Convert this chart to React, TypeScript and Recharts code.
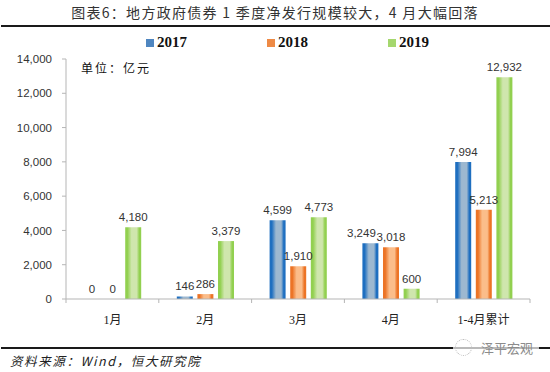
// @ts-nocheck
import React from 'react';
import { BarChart, Bar, XAxis, YAxis, LabelList, Legend } from 'recharts';

const months = ['1月', '2月', '3月', '4月', '1-4月累计'];
const values2017 = [0, 146, 4599, 3249, 7994];
const values2018 = [0, 286, 1910, 3018, 5213];
const values2019 = [4180, 3379, 4773, 600, 12932];
const yTicks = [0, 2000, 4000, 6000, 8000, 10000, 12000, 14000];

const data = months.map((month, i) => ({
  month,
  y2017: values2017[i],
  y2018: values2018[i],
  y2019: values2019[i],
}));

const series = [
  { key: 'y2017', name: '2017', edge: '#1f6fc0', mid: '#9db8d0', swatch: '#4f86c0' },
  { key: 'y2018', name: '2018', edge: '#ec7426', mid: '#fbbd8a', swatch: '#ee8a45' },
  { key: 'y2019', name: '2019', edge: '#92d050', mid: '#cfe6ad', swatch: '#a5d76e' },
];

const WIDTH = 550;
const HEIGHT = 372;
const PLOT_W = 464;
const LEGEND_H = 20;
const AXIS = '#b5b5b5';
const CJK = '"Noto Sans CJK SC", sans-serif';
const SERIF = '"Liberation Serif", "Noto Sans CJK SC", serif';
const LABEL_FONT = '"Liberation Sans", Arial, sans-serif';

const formatNum = (v: number) => v.toLocaleString('en-US');

const MonthTick = ({ x, y, payload, index }: any) => {
  const half = PLOT_W / months.length / 2;
  return (
    <g>
      <line x1={x + half} x2={x + half} y1={y - 8} y2={y - 4} stroke={AXIS} />
      {index === 0 && <line x1={x - half} x2={x - half} y1={y - 8} y2={y - 4} stroke={AXIS} />}
      <text x={x} y={y + 17} textAnchor="middle" fontSize={12} fill="#222" fontFamily={SERIF}>
        {payload.value}
      </text>
    </g>
  );
};

// 3,249 sits left of its bar in the original so it clears 3,018
const ValueLabel = ({ x, y, width, value }: any) => {
  const dx = value === 3249 ? -9 : 0;
  return (
    <text
      x={x + width / 2 + dx}
      y={y - 6}
      textAnchor="middle"
      fontSize={11.5}
      fill="#333"
      fontFamily={LABEL_FONT}
    >
      {formatNum(value)}
    </text>
  );
};

const LegendRow = ({ payload }: any) => (
  <div style={{ position: 'relative', height: LEGEND_H }}>
    {payload.map((item: any, i: number) => (
      <div
        key={item.value}
        style={{
          position: 'absolute',
          left: 146 + i * 121,
          top: 0,
          display: 'flex',
          alignItems: 'center',
          fontFamily: SERIF,
          fontWeight: 'bold',
          fontSize: 15,
          color: '#111',
        }}
      >
        <span style={{ width: 8, height: 8, marginRight: 3, background: series[i].swatch }} />
        {item.value}
      </div>
    ))}
  </div>
);

const rule = (top: number, height: number): React.CSSProperties => ({
  position: 'absolute',
  left: 1,
  width: 549,
  top,
  height,
  background: '#1a1a1a',
});

export default function App() {
  return (
    <div style={{ position: 'absolute', left: 0, top: 0, width: WIDTH, height: HEIGHT, background: '#fff', overflow: 'hidden' }}>
      <div
        style={{
          position: 'absolute',
          top: 2,
          left: 0,
          width: WIDTH,
          textAlign: 'center',
          fontSize: 14,
          letterSpacing: 1.3,
          color: '#333',
          fontFamily: CJK,
          whiteSpace: 'nowrap',
        }}
      >
        图表6：地方政府债券 1 季度净发行规模较大，4 月大幅回落
      </div>
      <div style={rule(25, 2)} />

      <BarChart
        width={WIDTH}
        height={HEIGHT}
        data={data}
        margin={{ top: 59 - LEGEND_H, right: 20, bottom: 0, left: 0 }}
        barSize={16}
        barGap={4.6}
        style={{ position: 'absolute', left: 0, top: 0 }}
      >
        <defs>
          {series.map((s) => (
            <linearGradient key={s.key} id={`fill-${s.key}`} x1="0" y1="0" x2="1" y2="0">
              <stop offset="0" stopColor={s.edge} />
              <stop offset="0.14" stopColor={s.edge} />
              <stop offset="0.4" stopColor={s.mid} />
              <stop offset="0.72" stopColor={s.mid} />
              <stop offset="0.88" stopColor={s.edge} />
              <stop offset="1" stopColor={s.edge} />
            </linearGradient>
          ))}
        </defs>
        <XAxis
          dataKey="month"
          height={73}
          interval={0}
          axisLine={{ stroke: AXIS }}
          tickLine={false}
          tick={<MonthTick />}
        />
        <YAxis
          width={66}
          domain={[0, 14000]}
          ticks={yTicks}
          interval={0}
          tickFormatter={formatNum}
          axisLine={{ stroke: AXIS }}
          tickLine={{ stroke: AXIS }}
          tickSize={4}
          tickMargin={10}
          tick={{ fontSize: 11.5, fill: '#333', fontFamily: LABEL_FONT }}
        />
        <Legend
          verticalAlign="top"
          align="left"
          content={<LegendRow />}
          wrapperStyle={{ left: 0, top: 34, width: WIDTH, height: LEGEND_H }}
        />
        {series.map((s) => (
          <Bar
            key={s.key}
            dataKey={s.key}
            name={s.name}
            fill={`url(#fill-${s.key})`}
            minPointSize={0.01}
            isAnimationActive={false}
          >
            <LabelList dataKey={s.key} content={<ValueLabel />} />
          </Bar>
        ))}
      </BarChart>

      <div style={{ position: 'absolute', left: 81, top: 59, fontSize: 12, letterSpacing: 2, color: '#111', fontFamily: CJK, whiteSpace: 'nowrap' }}>
        单位：亿元
      </div>

      <div style={rule(347, 1.5)} />
      <div
        style={{
          position: 'absolute',
          left: 10,
          top: 351,
          fontSize: 12.5,
          fontStyle: 'italic',
          letterSpacing: 1.6,
          color: '#222',
          fontFamily: CJK,
          whiteSpace: 'nowrap',
        }}
      >
        资料来源：Wind，恒大研究院
      </div>
      <div
        style={{
          position: 'absolute',
          left: 453,
          top: 338,
          width: 82,
          padding: '0 2px',
          background: 'rgba(255,255,255,0.7)',
          borderRadius: 4,
          display: 'flex',
          alignItems: 'center',
          fontSize: 13,
          color: '#8c8c8c',
          fontFamily: CJK,
          whiteSpace: 'nowrap',
        }}
      >
        <span style={{ width: 15, height: 15, marginRight: 9, border: '1.5px dotted #bdbdbd', borderRadius: '50%', flexShrink: 0 }} />
        泽平宏观
      </div>
    </div>
  );
}
